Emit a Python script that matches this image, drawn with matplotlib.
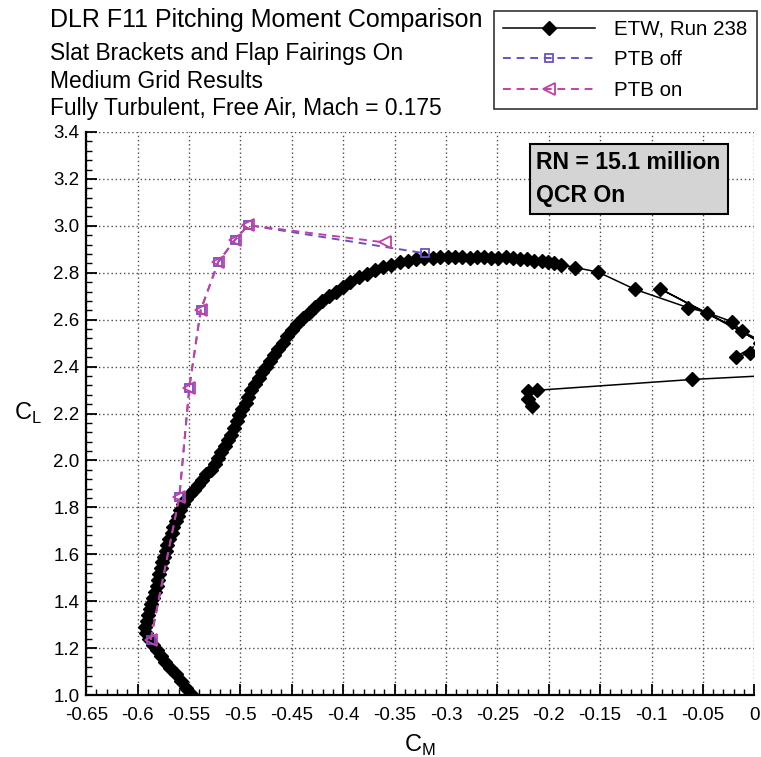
import matplotlib
matplotlib.use("Agg")
import matplotlib.pyplot as plt
from matplotlib.ticker import MultipleLocator, FixedLocator, FixedFormatter

plt.rcParams['font.family'] = ['Liberation Sans', 'DejaVu Sans']

# ETW Run 238 measured pitching moment / lift (alpha sweep order)
etw_cm = [-0.548, -0.553, -0.558, -0.563, -0.568, -0.573, -0.577, -0.581, -0.585, -0.589,
          -0.592, -0.593, -0.591, -0.590, -0.588, -0.587, -0.585, -0.583, -0.581, -0.580,
          -0.579, -0.577, -0.576, -0.574, -0.572, -0.571, -0.569, -0.567, -0.566, -0.563,
          -0.561, -0.559, -0.556, -0.553, -0.549, -0.545, -0.541, -0.537, -0.533, -0.529,
          -0.525, -0.522, -0.519, -0.515, -0.512, -0.509, -0.506, -0.503, -0.501, -0.498,
          -0.495, -0.493, -0.490, -0.486, -0.482, -0.479, -0.475, -0.471, -0.467, -0.463,
          -0.459, -0.455, -0.450, -0.445, -0.439, -0.433, -0.427, -0.421, -0.414, -0.407,
          -0.400, -0.393, -0.385, -0.377, -0.369, -0.361, -0.353, -0.345, -0.337, -0.329,
          -0.321, -0.313, -0.306, -0.298, -0.291, -0.284, -0.277, -0.270, -0.263, -0.256,
          -0.249, -0.242, -0.235, -0.228, -0.221, -0.214, -0.207, -0.201, -0.195, -0.188,
          -0.174, -0.152, -0.116, -0.0643, -0.0458, -0.0215, -0.0124, 0.006, -0.0182, -0.0043,
          0.015, -0.0918, 0.03, 0.05, -0.0607, -0.2118, -0.2199, -0.2199, -0.2166]
etw_cl = [1.005, 1.030, 1.060, 1.090, 1.115, 1.140, 1.165, 1.190, 1.215, 1.240,
          1.265, 1.290, 1.315, 1.340, 1.365, 1.390, 1.415, 1.440, 1.465, 1.490,
          1.515, 1.540, 1.565, 1.590, 1.615, 1.640, 1.665, 1.690, 1.715, 1.740,
          1.765, 1.790, 1.815, 1.835, 1.855, 1.875, 1.895, 1.915, 1.940, 1.960,
          1.985, 2.010, 2.035, 2.060, 2.085, 2.110, 2.140, 2.170, 2.195, 2.220,
          2.245, 2.270, 2.300, 2.325, 2.350, 2.375, 2.400, 2.425, 2.450, 2.475,
          2.500, 2.530, 2.555, 2.580, 2.605, 2.630, 2.655, 2.680, 2.700, 2.720,
          2.740, 2.760, 2.780, 2.795, 2.810, 2.825, 2.835, 2.845, 2.852, 2.858,
          2.862, 2.865, 2.866, 2.868, 2.866, 2.867, 2.864, 2.867, 2.869, 2.865,
          2.864, 2.866, 2.862, 2.858, 2.857, 2.852, 2.849, 2.845, 2.840, 2.835,
          2.822, 2.803, 2.729, 2.651, 2.630, 2.591, 2.551, 2.500, 2.442, 2.456,
          2.490, 2.732, 2.450, 2.370, 2.345, 2.299, 2.295, 2.260, 2.234]

# CFD, medium grid: PTB off / PTB on
ptb_off_cm = [-0.5873, -0.5594, -0.5497, -0.5386, -0.5215, -0.5053, -0.4923, -0.3204]
ptb_off_cl = [1.235, 1.844, 2.310, 2.641, 2.846, 2.940, 3.003, 2.883]
ptb_on_cm = [-0.5873, -0.5594, -0.5497, -0.5386, -0.5215, -0.5053, -0.4923, -0.3593]
ptb_on_cl = [1.235, 1.844, 2.310, 2.641, 2.846, 2.940, 3.003, 2.929]

x_ticks = [-0.65, -0.6, -0.55, -0.5, -0.45, -0.4, -0.35, -0.3, -0.25, -0.2, -0.15, -0.1, -0.05, 0.0]
x_labels = ['-0.65', '-0.6', '-0.55', '-0.5', '-0.45', '-0.4', '-0.35', '-0.3', '-0.25',
            '-0.2', '-0.15', '-0.1', '-0.05', '0']
y_ticks = [1.0, 1.2, 1.4, 1.6, 1.8, 2.0, 2.2, 2.4, 2.6, 2.8, 3.0, 3.2, 3.4]
y_labels = ['%.1f' % v for v in y_ticks]

W, H = 761, 757
fig = plt.figure(figsize=(W / 100, H / 100), dpi=100)
ax = fig.add_axes([86.2 / W, 1 - 695 / H, (754.3 - 86.2) / W, (695 - 132) / H])

off_color = '#6A50C4'
on_color = '#C43EA8'
dash = (0, (4, 3))

ax.plot(etw_cm, etw_cl, color='black', lw=1.1, marker='D', ms=7.3, mfc='black', mec='black',
        label='ETW, Run 238', zorder=3)
ax.plot(ptb_off_cm, ptb_off_cl, color=off_color, lw=1.4, ls=dash, marker='s', ms=6,
        mfc='none', mec=off_color, mew=1.3, label='PTB off', zorder=4)
ax.plot(ptb_on_cm, ptb_on_cl, color=on_color, lw=1.4, ls=dash, marker='<', ms=8,
        mfc='none', mec=on_color, mew=1.3, label='PTB on', zorder=5)

ax.set_xlim(-0.65, 0.0)
ax.set_ylim(1.0, 3.4)
ax.xaxis.set_major_locator(FixedLocator(x_ticks))
ax.xaxis.set_major_formatter(FixedFormatter(x_labels))
ax.yaxis.set_major_locator(FixedLocator(y_ticks))
ax.yaxis.set_major_formatter(FixedFormatter(y_labels))
ax.xaxis.set_minor_locator(MultipleLocator(0.01))
ax.yaxis.set_minor_locator(MultipleLocator(0.04))
ax.tick_params(which='both', direction='in', top=False, right=False, labelsize=13.5)
ax.tick_params(which='major', length=8, width=1.3)
ax.tick_params(which='minor', length=4, width=1.0)
ax.tick_params(axis='x', which='major', pad=9)
ax.tick_params(axis='y', which='major', pad=5)

ax.grid(True, which='major', color='0.3', ls=(0, (1, 2)), lw=1.0)
for s in ['top', 'right']:
    ax.spines[s].set_visible(False)
for s in ['left', 'bottom']:
    ax.spines[s].set_linewidth(1.6)

ax.set_xlabel('C$_{\\mathregular{M}}$', fontsize=17, labelpad=6)
ax.set_ylabel('C$_{\\mathregular{L}}$', fontsize=17, rotation=0, labelpad=18, va='center')

# Titles
fig.text(50 / W, 1 - 27 / H, 'DLR F11 Pitching Moment Comparison', fontsize=18, va='baseline')
sub = ['Slat Brackets and Flap Fairings On', 'Medium Grid Results',
       'Fully Turbulent, Free Air, Mach = 0.175']
for i, t in enumerate(sub):
    fig.text(50 / W, 1 - (60 + 27.5 * i) / H, t, fontsize=16.4, va='baseline')

# Condition box
ax.text((536.5 - 86.2) / (754.3 - 86.2), (695 - 151) / 563, 'RN = 15.1 million\nQCR On',
        transform=ax.transAxes, fontsize=16.6, fontweight='bold', va='top', ha='left',
        linespacing=1.55,
        bbox=dict(boxstyle='square,pad=0.3', fc='#d4d4d4', ec='black', lw=1.5), zorder=6)

leg = fig.legend(loc='upper right', bbox_to_anchor=(756.7 / W, 1 - 10.7 / H),
                 fontsize=14.8, frameon=True, fancybox=False, edgecolor='black',
                 handlelength=4.5, handletextpad=0.92, borderpad=0.45, labelspacing=0.56,
                 borderaxespad=0)
leg.get_frame().set_linewidth(1.2)

fig.savefig('out.png', dpi=100)
